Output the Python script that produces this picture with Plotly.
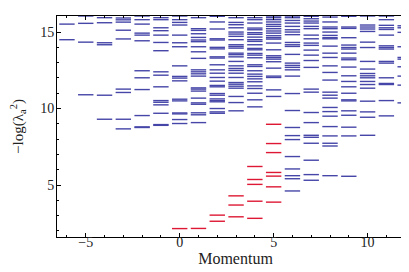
import plotly.graph_objects as go

# Momentum sectors
momenta = list(range(-6, 13))

# Blue levels (-log of entanglement eigenvalues) per momentum sector
lv_m6 = [15.52, 14.50]
lv_m5 = [16.05, 15.57, 14.34, 10.90]
lv_m4 = [15.94, 15.61, 14.30, 14.17, 10.87, 9.30]
lv_m3 = [15.92, 15.80, 15.65, 15.12, 14.55, 11.27, 11.05, 9.30, 8.67]
lv_m2 = [16.05, 15.81, 15.52, 14.93, 14.80, 14.43, 12.47, 12.01, 11.24, 9.54, 8.80, 8.76]
lv_m1 = [15.94, 15.81, 15.28, 15.09, 14.80, 14.32, 13.78, 12.40, 12.18, 11.42,
         10.52, 10.41, 10.24, 9.69, 8.95, 8.90]
lv_0 = [16.05, 15.81, 15.63, 15.46, 14.80, 14.30, 14.04, 12.79, 12.10, 11.99, 11.81,
        10.61, 10.50, 9.71, 9.65, 9.28, 9.02]
lv_1 = [15.94, 15.22, 15.11, 14.89, 14.65, 14.48, 14.37, 14.04, 13.71, 13.28, 12.53,
        12.40, 12.27, 12.12, 11.35, 11.27, 11.14, 10.68, 10.37, 10.28, 9.72, 9.59, 9.08]
lv_2 = [16.03, 15.66, 15.20, 14.56, 14.48, 14.00, 13.90, 13.38, 13.30, 12.86, 12.53,
        12.31, 12.03, 11.79, 11.51, 11.42, 10.98, 10.87, 10.63, 10.52, 10.44, 10.00,
        9.78, 9.69]
lv_3 = [15.94, 15.63, 15.48, 15.28, 15.00, 14.87, 14.72, 14.50, 14.17, 14.06, 13.95,
        13.62, 13.52, 13.38, 13.08, 12.79, 12.62, 12.49, 12.31, 12.03, 11.70, 11.59,
        11.46, 11.33, 10.79, 10.39, 9.85]
lv_4 = [15.94, 15.81, 15.59, 15.26, 15.15, 14.96, 14.85, 14.67, 14.50, 14.39, 14.17,
        13.93, 13.84, 13.60, 13.49, 13.32, 12.86, 12.75, 12.47, 12.25, 12.10, 11.94,
        11.75, 11.48, 11.31, 11.00, 10.57, 10.11]
lv_5 = [16.05, 15.94, 15.81, 15.66, 15.50, 15.37, 15.22, 15.07, 14.93, 14.76, 14.63,
        14.54, 14.28, 13.84, 13.45, 13.34, 13.23, 13.06, 12.64, 12.12, 12.03, 11.22,
        10.79]
lv_6 = [16.05, 15.94, 15.76, 15.59, 15.37, 15.15, 15.00, 14.83, 14.32, 14.17, 14.06,
        13.54, 12.97, 12.82, 12.69, 12.53, 12.12, 10.98, 9.87, 8.76, 8.23, 7.97, 6.86,
        6.05, 5.61, 5.41, 4.61]
lv_7 = [16.03, 15.87, 15.72, 15.59, 15.37, 15.22, 14.80, 14.56, 14.28, 14.13, 13.82,
        13.49, 13.14, 12.69, 11.27, 11.07, 9.74, 9.08, 8.25, 8.12, 7.73, 6.62, 5.68,
        5.31]
lv_8 = [15.98, 15.66, 15.33, 15.22, 15.00, 14.78, 14.63, 14.56, 14.08, 13.62, 13.34,
        12.79, 12.36, 11.86, 11.07, 10.87, 10.68, 10.07, 9.80, 9.50, 8.82, 8.21, 7.73,
        7.55, 5.61]
lv_9 = [16.03, 15.33, 15.24, 14.63, 14.15, 13.99, 13.89, 13.62, 13.30, 13.19, 12.71,
        12.14, 11.77, 11.42, 11.00, 10.57, 10.50, 9.85, 9.56, 8.78, 8.21, 5.57]
lv_10 = [16.05, 15.46, 15.33, 15.20, 15.04, 14.34, 13.99, 13.08, 12.58, 12.29, 12.14,
         12.01, 11.77, 11.57, 11.33, 10.48, 9.78, 9.43, 8.25]
lv_11 = [16.05, 15.81, 15.44, 15.28, 15.17, 14.80, 14.10, 13.99, 13.89, 13.08, 12.97,
         12.01, 11.64, 11.57, 10.52, 9.52]
lv_12 = [15.41, 15.28, 14.98, 14.04, 13.34, 13.23, 12.73, 12.12, 11.53, 10.37]

blue_levels = [lv_m6, lv_m5, lv_m4, lv_m3, lv_m2, lv_m1, lv_0, lv_1, lv_2, lv_3,
               lv_4, lv_5, lv_6, lv_7, lv_8, lv_9, lv_10, lv_11, lv_12]

# Red (low-lying) levels
red_0 = [2.15]
red_1 = [2.16]
red_2 = [3.03, 2.63]
red_3 = [4.29, 3.69, 2.92]
red_4 = [6.21, 5.36, 5.04, 3.94, 2.82]
red_5 = [8.97, 7.71, 7.12, 5.82, 5.58, 4.88, 3.88]
red_momenta = [0, 1, 2, 3, 4, 5]
red_levels = [red_0, red_1, red_2, red_3, red_4, red_5]

bx, by = [], []
for k, vals in zip(momenta, blue_levels):
    bx += [k] * len(vals)
    by += vals
rx, ry = [], []
for k, vals in zip(red_momenta, red_levels):
    rx += [k] * len(vals)
    ry += vals

BLUE = "rgb(70,70,168)"
RED = "rgb(222,24,52)"
SERIF = "Liberation Serif"

fig = go.Figure()
fig.add_trace(go.Scatter(
    x=bx, y=by, mode="markers", showlegend=False,
    marker=dict(symbol="line-ew", size=11, line=dict(color=BLUE, width=1.4)),
))
fig.add_trace(go.Scatter(
    x=rx, y=ry, mode="markers", showlegend=False,
    marker=dict(symbol="line-ew", size=11, line=dict(color=RED, width=1.4)),
))

axis_common = dict(
    showgrid=False, zeroline=False, showline=True, linecolor="black", linewidth=1,
    mirror="ticks", ticks="inside", ticklen=4, tickwidth=1, tickcolor="black",
    tickfont=dict(family=SERIF, size=14, color="#222"),
)
fig.update_xaxes(
    range=[-6.53, 12.47], tickmode="linear", tick0=0, dtick=5,
    minor=dict(ticks="inside", ticklen=2, dtick=1, tick0=0, tickcolor="black"),
    ticklabelstandoff=-8,
    title=dict(text="Momentum", font=dict(family=SERIF, size=16, color="#222"),
               standoff=2),
    **axis_common,
)
fig.update_yaxes(
    range=[1.6, 16.05], tickmode="linear", tick0=0, dtick=5,
    minor=dict(ticks="inside", ticklen=2, dtick=1, tick0=0, tickcolor="black"),
    ticklabelstandoff=-1,
    title=dict(text="−log(λ<sub>a</sub><sup>2</sup>)",
               font=dict(family=SERIF, size=15, color="#222"), standoff=16),
    **axis_common,
)
fig.update_layout(
    width=409, height=272,
    margin=dict(l=49, r=3, t=8, b=43),
    plot_bgcolor="white", paper_bgcolor="white",
)
fig.write_html("out.html")
